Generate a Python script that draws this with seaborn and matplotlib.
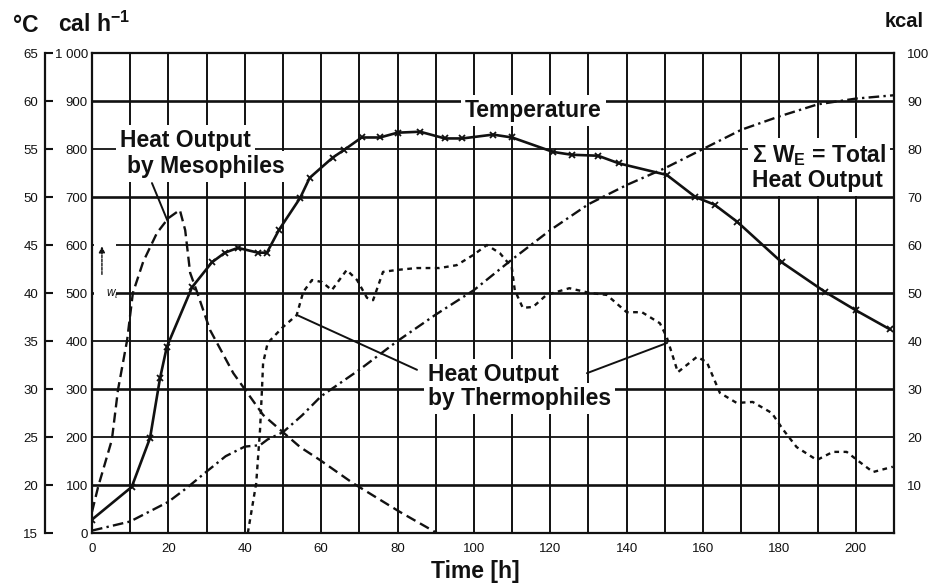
import matplotlib
matplotlib.use("Agg")
import matplotlib.pyplot as plt
from matplotlib.ticker import FixedLocator, FuncFormatter
from matplotlib.patches import Rectangle
import seaborn as sns

# Temperature of the compost (°C), crosses mark the measurements
hours_temp = [0, 10.4, 15.2, 17.8, 19.6, 26.2, 31.4, 34.8, 38.2, 43.5, 45.8, 49.0,
              54.5, 57.0, 63.0, 66.0, 70.6, 75.4, 80.0, 85.9, 92.4, 97.0, 105.0,
              110.0, 120.7, 125.6, 132.5, 138.0, 150.5, 158.0, 163.0, 169.0,
              180.6, 192.0, 200.0, 209.0]
temp_c = [16.4, 19.8, 24.9, 31.1, 34.4, 40.6, 43.2, 44.2, 44.7, 44.2, 44.2, 46.6,
          49.9, 52.0, 54.1, 54.9, 56.2, 56.2, 56.7, 56.8, 56.1, 56.1, 56.5,
          56.2, 54.7, 54.4, 54.3, 53.5, 52.3, 50.0, 49.2, 47.4,
          43.2, 40.1, 38.2, 36.2]

# Heat output by mesophiles (cal/h)
hours_meso = [0, 1.6, 5.2, 6.8, 9.2, 10.7, 13.4, 17.0, 20.0, 23.0, 24.4, 25.7,
              27.5, 30.9, 37.0, 44.8, 50.0, 54.5, 59.7, 68.3, 80.6, 90.3]
meso_cal = [44, 96, 194, 298, 402, 500, 565, 625, 656, 673, 631, 542,
            502, 423, 333, 246, 210, 179, 152, 104, 44, 0]

# Heat output by thermophiles (cal/h)
hours_thermo = [40.8, 43.0, 44.0, 44.5, 44.8, 46.0, 50.0, 53.6, 55.3, 57.6, 60.2,
                62.8, 66.7, 69.4, 72.0, 73.6, 76.2, 79.8, 85.0, 91.0, 95.5, 99.8,
                103.4, 106.8, 109.9, 110.7, 112.8, 115.5, 119.0, 125.0, 130.4,
                134.8, 140.0, 144.0, 148.7, 150.5, 153.4, 158.4, 161.0, 164.4,
                168.8, 173.0, 178.0, 181.0, 184.5, 189.8, 194.0, 197.6, 201.0,
                204.5, 209.7]
thermo_cal = [0, 104, 215, 298, 354, 396, 429, 454, 502, 527, 523,
              506, 548, 527, 490, 485, 544, 548, 552, 552, 558, 579,
              600, 583, 554, 506, 469, 471, 496, 510, 500,
              496, 460, 460, 437, 408, 335, 367, 356, 292,
              271, 273, 250, 215, 179, 152, 169, 169, 148,
              127, 138]

# Cumulative total heat output (kcal)
hours_total = [0, 10, 20, 25, 30, 35, 40, 44, 46, 50, 55, 60, 70, 80, 90, 100,
               110, 120, 130, 140, 150, 160, 170, 180, 190, 200, 210]
total_kcal = [0.5, 2.4, 6.5, 9.5, 12.8, 16.0, 18.0, 18.3, 19.5, 21.0, 24.5, 28.5,
              34.0, 40.0, 45.5, 50.6, 57.0, 63.1, 68.5, 72.5, 76.0, 80.0, 84.0,
              86.8, 89.3, 90.5, 91.2]

time_ticks = [0, 20, 40, 60, 80, 100, 120, 140, 160, 180, 200]
time_minor = [10, 30, 50, 70, 90, 110, 130, 150, 170, 190, 210]
cal_major = [100, 300, 500, 700, 900]
cal_minor = [0, 200, 400, 600, 800, 1000]
degc_ticks = [15, 20, 25, 30, 35, 40, 45, 50, 55, 60, 65]
kcal_ticks = [10, 20, 30, 40, 50, 60, 70, 80, 90, 100]

sns.set_theme(style="white")
plt.rcParams["font.family"] = ["Liberation Sans", "DejaVu Sans"]
plt.rcParams["mathtext.fontset"] = "custom"
plt.rcParams["mathtext.rm"] = "Liberation Sans"
plt.rcParams["mathtext.bf"] = "Liberation Sans:bold"
plt.rcParams["mathtext.it"] = "Liberation Sans:italic"

W, H = 930, 586
L, R, T, B = 92, 894, 53, 533
fig = plt.figure(figsize=(W / 100, H / 100), dpi=100)
ax = fig.add_axes([L / W, 1 - B / H, (R - L) / W, (B - T) / H])
ax.set_xlim(0, 210)
ax.set_ylim(0, 1000)
ax.set_axisbelow(True)

ink = "#111111"
for sp in ax.spines.values():
    sp.set_visible(True)
    sp.set_color(ink)
    sp.set_linewidth(1.6)

# grid: time every 10 h, heat every 100 cal/h
ax.xaxis.set_major_locator(FixedLocator(time_ticks))
ax.xaxis.set_minor_locator(FixedLocator(time_minor))
ax.yaxis.set_major_locator(FixedLocator(cal_major))
ax.yaxis.set_minor_locator(FixedLocator(cal_minor))
cal_fmt = FuncFormatter(lambda v, p: "1 000" if v >= 1000 else f"{int(v)}")
ax.yaxis.set_major_formatter(cal_fmt)
ax.yaxis.set_minor_formatter(cal_fmt)
ax.xaxis.set_minor_formatter(FuncFormatter(lambda v, p: ""))
ax.grid(True, axis="x", which="both", color=ink, linewidth=1.4)
ax.grid(True, axis="y", which="major", color=ink, linewidth=1.9)
ax.grid(True, axis="y", which="minor", color=ink, linewidth=1.3)
ax.tick_params(axis="both", which="both", length=0, labelsize=9.5, colors=ink)
ax.tick_params(axis="x", which="both", pad=7)
ax.tick_params(axis="y", which="both", pad=3)
ax.set_xlabel("")
ax.set_ylabel("")

# temperature scale on an offset left spine
ax_t = ax.twinx()
ax_t.set_ylim(15, 65)
ax_t.yaxis.tick_left()
ax_t.spines["left"].set_visible(True)
ax_t.spines["left"].set_position(("outward", 33.8))
ax_t.spines["left"].set_linewidth(1.6)
ax_t.spines["left"].set_color(ink)
for s in ("right", "top", "bottom"):
    ax_t.spines[s].set_visible(False)
ax_t.yaxis.set_major_locator(FixedLocator(degc_ticks))
ax_t.tick_params(axis="y", direction="in", length=5.5, width=1.5, pad=5,
                 labelsize=9.5, colors=ink, left=True, labelleft=True,
                 right=False, labelright=False)
ax_t.set_ylabel("")

# cumulative heat scale on the right
ax_k = ax.twinx()
ax_k.set_ylim(0, 100)
for s in ax_k.spines.values():
    s.set_visible(False)
ax_k.yaxis.set_major_locator(FixedLocator(kcal_ticks))
ax_k.tick_params(axis="y", length=0, pad=9.5, labelsize=9.5, colors=ink)
ax_k.set_ylabel("")

lw = 1.7
sns.lineplot(x=hours_meso, y=meso_cal, ax=ax, color=ink, linewidth=lw,
             linestyle=(0, (4.3, 2.2)), estimator=None, sort=False, zorder=3)
sns.lineplot(x=hours_thermo, y=thermo_cal, ax=ax, color=ink, linewidth=lw,
             linestyle=(0, (2.0, 1.9)), estimator=None, sort=False, zorder=3)
sns.lineplot(x=hours_total, y=total_kcal, ax=ax_k, color=ink, linewidth=lw,
             linestyle=(0, (4.5, 1.8, 1.0, 1.8)), estimator=None, sort=False,
             zorder=3)
sns.lineplot(x=hours_temp, y=temp_c, ax=ax_t, color=ink, linewidth=1.9,
             marker="x", markersize=5, markeredgewidth=1.3,
             markeredgecolor=ink, estimator=None, sort=False, zorder=3)
for a in (ax, ax_t, ax_k):
    a.set_xlim(0, 210)
ax_t.set_ylim(15, 65)
ax_k.set_ylim(0, 100)
ax.set_ylim(0, 1000)

# annotations
bold = dict(fontsize=16.5, fontweight="bold", color=ink)
box = dict(facecolor="white", edgecolor="none", pad=3)
ax.text(7.3, 804, "Heat Output", ha="left", va="baseline", bbox=box, zorder=4, **bold)
ax.text(9.2, 750, "by Mesophiles", ha="left", va="baseline", bbox=box, zorder=4, **bold)
ax.text(97.7, 867, "Temperature", ha="left", va="baseline", bbox=box, zorder=4, **bold)
ax.text(172.8, 773, "Σ W$_{\\mathbf{E}}$ = Total", ha="left", va="baseline",
        bbox=box, zorder=4, **bold)
ax.text(172.8, 721, "Heat Output", ha="left", va="baseline", bbox=box, zorder=4, **bold)
ax.text(88.0, 317, "Heat Output", ha="left", va="baseline", bbox=box, zorder=4, **bold)
ax.text(88.0, 267, "by Thermophiles", ha="left", va="baseline", bbox=box, zorder=4, **bold)

# leader lines from labels to curves
ax.plot([15.7, 19.9], [729, 648], color=ink, linewidth=1.4, zorder=4)
ax.plot([85.1, 53.7], [340, 454], color=ink, linewidth=1.4, zorder=4)
ax.plot([129.6, 150.6], [333, 396], color=ink, linewidth=1.4, zorder=4)

# heat flow symbol with arrow
ax.add_patch(Rectangle((0.4, 478), 6.0, 145, facecolor="white", edgecolor="none",
                       zorder=1))
ax.annotate("", xy=(2.6, 603), xytext=(2.6, 533),
            arrowprops=dict(arrowstyle="-|>", color=ink, linewidth=1.0,
                            mutation_scale=9, linestyle=(0, (2, 1))), zorder=4)
ax.text(3.7, 496, "$w_t$", ha="left", va="center", fontsize=8.5, color=ink, zorder=4)

# unit captions and axis title
fig.text(13 / W, 1 - 32 / H, "°C", fontsize=16.5, fontweight="bold", color=ink,
         ha="left", va="baseline")
fig.text(58 / W, 1 - 32 / H, "cal h$^{\\mathbf{-1}}$", fontsize=16.5,
         fontweight="bold", color=ink, ha="left", va="baseline")
fig.text(885 / W, 1 - 27 / H, "kcal", fontsize=14.5, fontweight="bold", color=ink,
         ha="left", va="baseline")
fig.text(475 / W, 1 - 578 / H, "Time [h]", fontsize=16.5, fontweight="bold",
         color=ink, ha="center", va="baseline")

fig.savefig("out.png", dpi=100, facecolor="white")
